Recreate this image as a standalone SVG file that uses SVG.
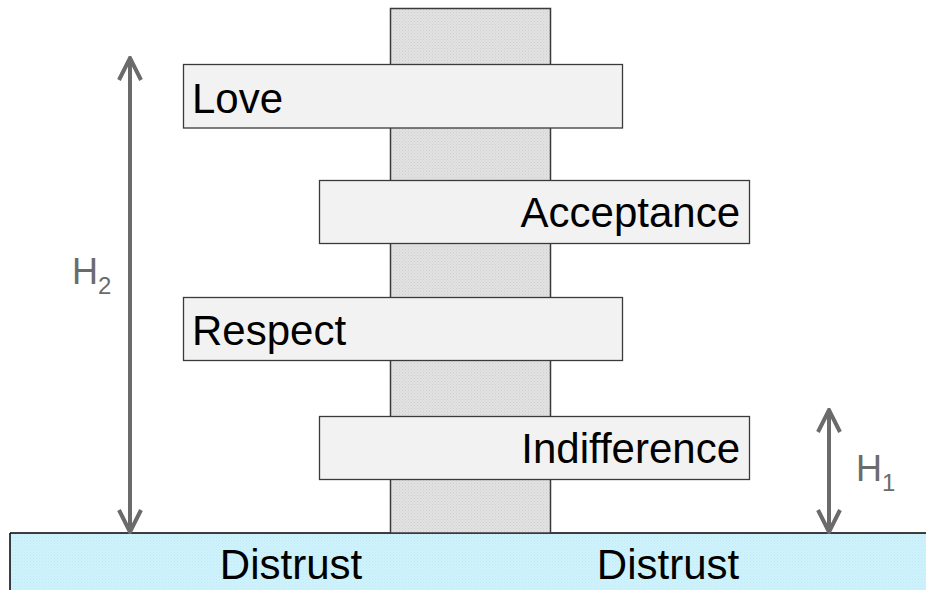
<svg xmlns="http://www.w3.org/2000/svg" width="926" height="590" viewBox="0 0 926 590">
  <style>
    .bar { fill: #f2f2f2; stroke: #3a3a3a; stroke-width: 1.3; }
    .lbl { font-family: "Liberation Sans", Arial, sans-serif; font-size: 42px; fill: #000; }
    .dim { font-family: "Liberation Sans", Arial, sans-serif; fill: #6b6b6b; }
    .arr { stroke: #6b6b6b; stroke-width: 4; fill: none; }
  </style>
  <defs>
    <pattern id="greyDots" width="3" height="3" patternUnits="userSpaceOnUse">
      <rect width="3" height="3" fill="#e2e2e2"/>
      <rect width="1" height="1" fill="#cfcfcf"/>
      <rect x="1.5" y="1.5" width="1" height="1" fill="#d4d4d4"/>
    </pattern>
    <pattern id="blueDots" width="3" height="3" patternUnits="userSpaceOnUse">
      <rect width="3" height="3" fill="#cff3fd"/>
      <rect width="1" height="1" fill="#bfe9f6"/>
      <rect x="1.5" y="1.5" width="1" height="1" fill="#c4ecf8"/>
    </pattern>
    <!-- open chevron head, pointing along the line -->
    <marker id="head" viewBox="0 0 26 26" refX="24" refY="13" markerWidth="26" markerHeight="26" markerUnits="userSpaceOnUse" orient="auto-start-reverse">
      <path d="M2,2 L24,13 L2,24" fill="none" stroke="#6b6b6b" stroke-width="4" stroke-linejoin="miter"/>
    </marker>
  </defs>

  <!-- ground -->
  <g id="ground">
    <rect x="10" y="533" width="920" height="60" fill="url(#blueDots)"/>
    <line x1="10" y1="533" x2="926" y2="533" stroke="#000" stroke-width="1.5"/>
    <line x1="10" y1="533" x2="10" y2="590" stroke="#000" stroke-width="1.5"/>
    <text class="lbl" x="291" y="579" text-anchor="middle">Distrust</text>
    <text class="lbl" x="668" y="579" text-anchor="middle">Distrust</text>
  </g>

  <!-- central column -->
  <g id="column">
    <rect x="390.5" y="8.5" width="160" height="524.5" fill="url(#greyDots)" stroke="#3a3a3a" stroke-width="1.5"/>
  </g>

  <g id="love">
    <rect class="bar" x="183.5" y="64.5" width="439" height="63.5"/>
    <text class="lbl" x="192" y="113">Love</text>
  </g>
  <g id="acceptance">
    <rect class="bar" x="319.5" y="180.5" width="430" height="63"/>
    <text class="lbl" x="740" y="227" text-anchor="end">Acceptance</text>
  </g>
  <g id="respect">
    <rect class="bar" x="183.5" y="297.5" width="439" height="63"/>
    <text class="lbl" x="192" y="345">Respect</text>
  </g>
  <g id="indifference">
    <rect class="bar" x="319.5" y="416.5" width="430" height="63"/>
    <text class="lbl" x="740" y="463" text-anchor="end">Indifference</text>
  </g>

  <!-- height arrows -->
  <g id="connectors">
    <line class="arr" x1="130" y1="58" x2="130" y2="532" marker-start="url(#head)" marker-end="url(#head)"/>
    <line class="arr" x1="829" y1="410" x2="829" y2="532" marker-start="url(#head)" marker-end="url(#head)"/>
  </g>

  <g id="h2">
    <text class="dim" x="72" y="284" font-size="36">H<tspan font-size="24" dy="10">2</tspan></text>
  </g>
  <g id="h1">
    <text class="dim" x="856" y="481" font-size="36">H<tspan font-size="24" dy="10">1</tspan></text>
  </g>
</svg>
